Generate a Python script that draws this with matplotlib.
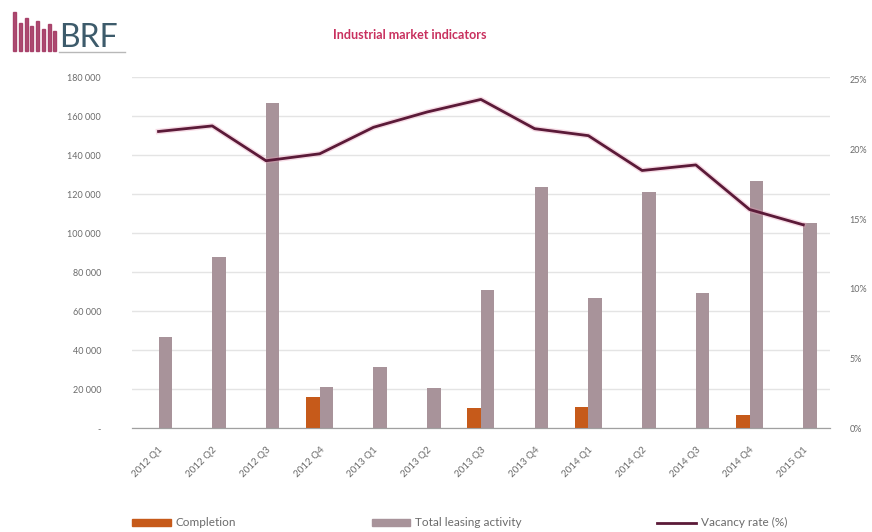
import matplotlib.pyplot as plt
from matplotlib.patches import Rectangle
from matplotlib.lines import Line2D
import matplotlib.ticker as mtick

plt.rcParams['font.family'] = ['Lato', 'DejaVu Sans']

# Data
quarters = ["2012 Q1", "2012 Q2", "2012 Q3", "2012 Q4", "2013 Q1", "2013 Q2", "2013 Q3",
            "2013 Q4", "2014 Q1", "2014 Q2", "2014 Q3", "2014 Q4", "2015 Q1"]
completion = [0, 0, 0, 16000, 0, 0, 10300, 0, 10700, 0, 0, 6700, 0]
leasing = [47000, 88000, 166500, 21000, 31500, 20600, 71000, 123500, 67000, 121000, 69500, 127000, 105000]
vacancy = [21.3, 21.7, 19.2, 19.7, 21.6, 22.7, 23.6, 21.5, 21.0, 18.5, 18.9, 15.7, 14.6]

grey_txt = "#6b6b6b"
c_compl = "#c65a1a"
c_leas = "#a8939a"
c_vac = "#5b1a38"

fig = plt.figure(figsize=(8.72, 5.32), dpi=100)
ax = fig.add_axes([0.151, 0.195, 0.801, 0.66])
ax2 = ax.twinx()

x = list(range(len(quarters)))
w = 0.25
ax.bar([i - w / 2 for i in x], completion, width=w, color=c_compl, zorder=3)
ax.bar([i + w / 2 for i in x], leasing, width=w, color=c_leas, zorder=3)
ax2.plot(x, vacancy, color="#e89ab5", lw=4, alpha=0.35, zorder=3)
ax2.plot(x, vacancy, color=c_vac, lw=2, zorder=4)

ax.set_xlim(-0.5, len(quarters) - 0.5)
ax.set_ylim(0, 180000)
ax.set_yticks(range(0, 180001, 20000))
ax.yaxis.set_major_formatter(mtick.FuncFormatter(
    lambda v, p: "-" if v == 0 else f"{int(v):,}".replace(",", " ")))
ax.grid(axis="y", color="#e4e4e4", lw=1, zorder=0)
ax.set_xticks(x)
ax.set_xticklabels(quarters, rotation=45, ha="right", rotation_mode="anchor")
ax.tick_params(axis="x", length=0, pad=12, labelsize=7, colors=grey_txt)
ax.tick_params(axis="y", length=0, pad=22, labelsize=6.5, colors=grey_txt)

ax2.set_ylim(0, 25.2)
ax2.set_yticks(range(0, 26, 5))
ax2.yaxis.set_major_formatter(mtick.FuncFormatter(lambda v, p: f"{int(v)}%"))
ax2.tick_params(axis="y", length=0, pad=14, labelsize=6.5, colors=grey_txt)

for a in (ax, ax2):
    for s in ("top", "left", "right"):
        a.spines[s].set_visible(False)
    a.spines["bottom"].set_color("#a0a0a0")

fig.text(0.47, 0.935, "Industrial market indicators", color="#c8305e",
         fontsize=9, fontweight="bold", ha="center", va="center")

# BRF logo
logo_h = [0.072, 0.052, 0.062, 0.046, 0.056, 0.04, 0.05, 0.036]
for k, bh in enumerate(logo_h):
    fig.patches.append(Rectangle((0.015 + k * 0.0066, 0.905), 0.0035, bh,
                                 transform=fig.transFigure, color="#a0305c", alpha=0.85))
fig.text(0.068, 0.9, "BRF", color="#3d5b6b", fontsize=23, ha="left", va="bottom")
fig.lines.append(Line2D([0.068, 0.143], [0.903, 0.903], transform=fig.transFigure,
                        color="#b8b8b8", lw=1))

handles = [Rectangle((0, 0), 1, 1, color=c_compl),
           Rectangle((0, 0), 1, 1, color=c_leas),
           Line2D([], [], color=c_vac, lw=2)]
fig.legend(handles, ["Completion", "Total leasing activity", "Vacancy rate (%)"],
           loc="center", bbox_to_anchor=(0.527, 0.017), ncol=3, frameon=False,
           fontsize=8.5, handlelength=3.3, handleheight=0.5, columnspacing=11.5,
           labelcolor=grey_txt, handletextpad=0.4)

fig.savefig("out.png", dpi=100, facecolor="white")
